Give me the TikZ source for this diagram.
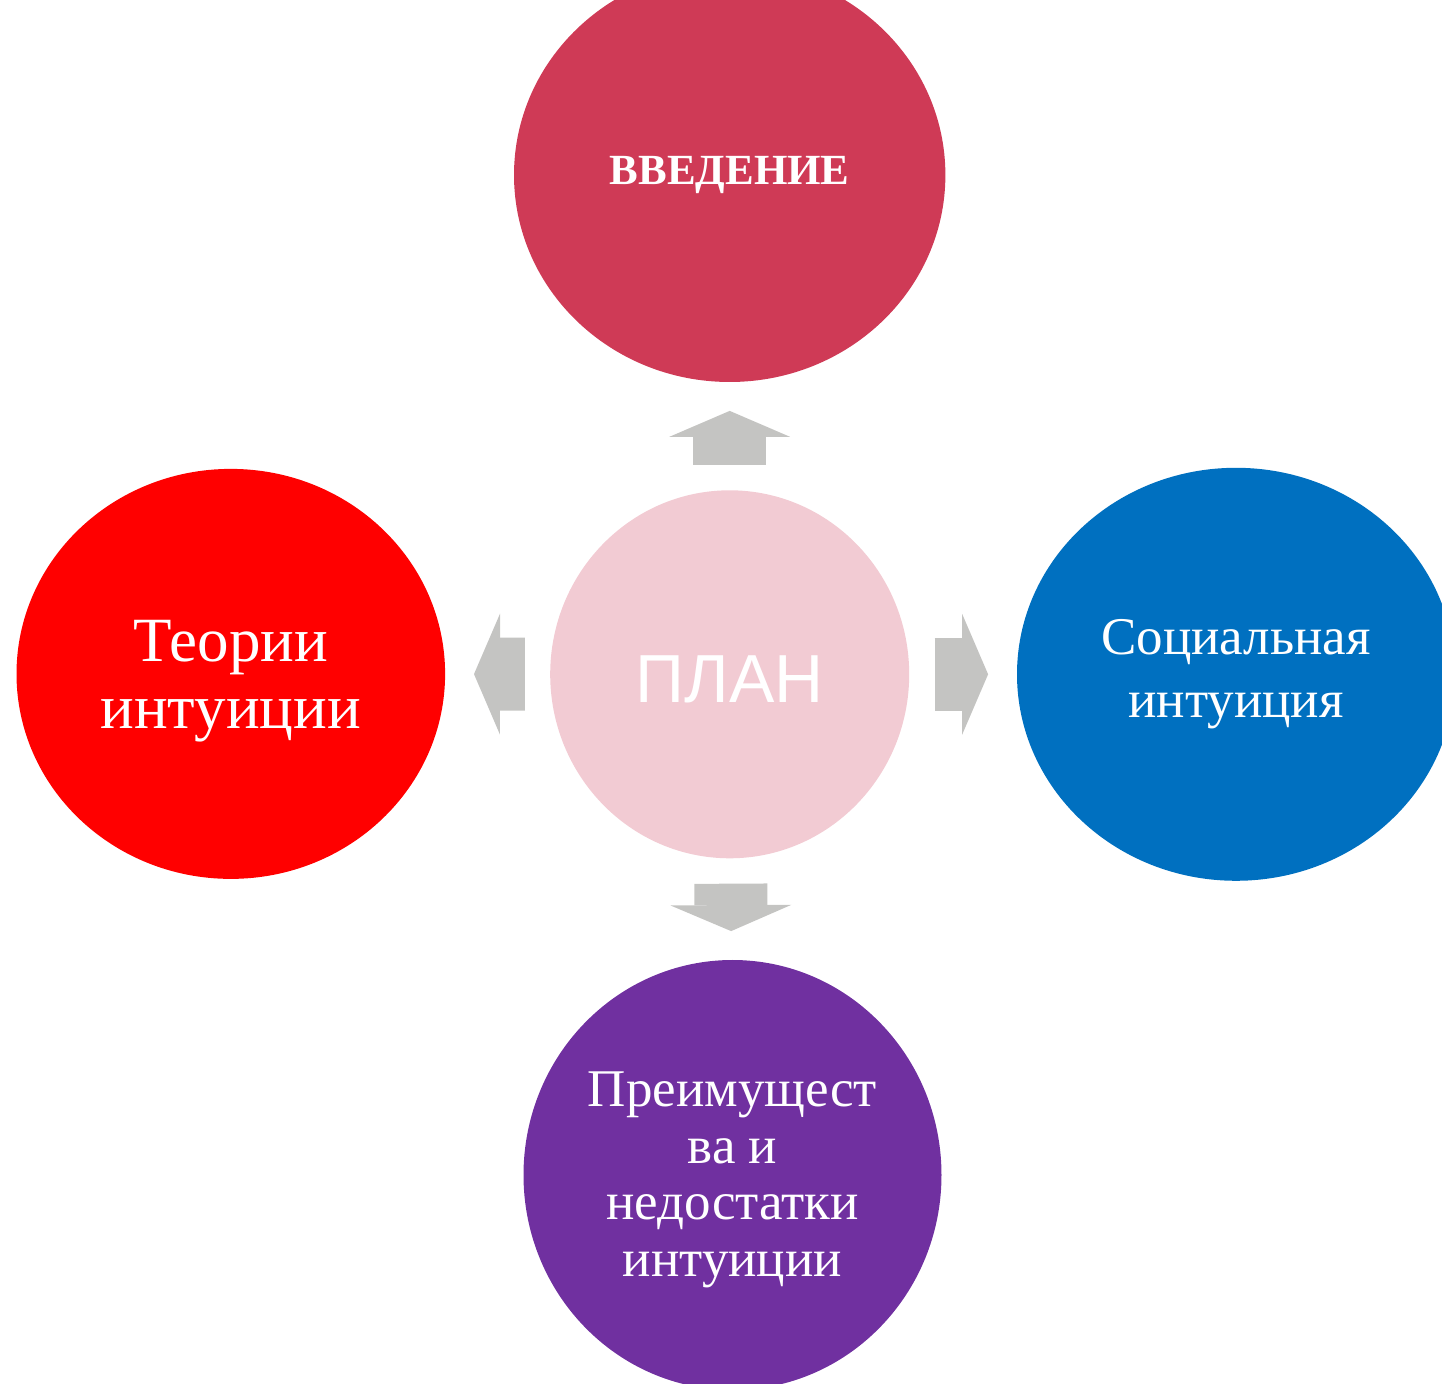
\documentclass[tikz,border=0pt]{standalone}
\usepackage{fontspec}
\setmainfont{Liberation Serif}
\newfontfamily\planfont{Liberation Sans}
\usetikzlibrary{shapes.geometric,arrows.meta}

\definecolor{introred}{RGB}{207,58,86}
\definecolor{planpink}{RGB}{242,203,211}
\definecolor{theoryred}{RGB}{255,0,0}
\definecolor{socialblue}{RGB}{0,112,192}
\definecolor{prospurple}{RGB}{112,48,160}
\definecolor{arrowgray}{RGB}{196,196,194}

\tikzset{
  bubble/.style={ellipse, inner sep=0pt},
  bubbletext/.style={inner sep=0pt, text=white, align=center},
  blockarrow/.style={draw=arrowgray, line width=36.5pt,
    -{Triangle[length=13pt,width=60.5pt,line width=0pt]},
    shorten <=12.5pt, shorten >=14.25pt}
}

\begin{document}
\begin{tikzpicture}[x=0.5pt,y=-0.5pt]
  \useasboundingbox (0,0) rectangle (1442,1384);
  \clip (0,0) rectangle (1442,1384);

  % circles
  \node[bubble, fill=planpink, minimum width=179.5pt, minimum height=184pt] (plan) at (729.7,674.3) {};
  \node[bubble, fill=introred, minimum width=215.7pt, minimum height=207pt] (intro) at (729.7,175) {};
  \node[bubble, fill=theoryred, minimum width=214.3pt, minimum height=205pt] (theory) at (230.8,673.9) {};
  \node[bubble, fill=socialblue, minimum width=219pt, minimum height=206.5pt] (social) at (1236,674.3) {};
  \node[bubble, fill=prospurple, minimum width=209pt, minimum height=215pt] (pros) at (732.5,1175) {};

  % texts
  \node[bubbletext, font=\planfont\fontsize{34}{40}\selectfont] (plantext)
    at ([yshift=-2.5pt]plan.center) {ПЛАН};
  \node[bubbletext, font=\bfseries\fontsize{21.5}{25}\selectfont] (introtext)
    at (intro.center) {ВВЕДЕНИЕ};
  \node[bubbletext, font=\fontsize{31.5}{33.3}\selectfont] (theorytext)
    at ([yshift=-3.5pt]theory.center) {Теории\\интуиции};
  \node[bubbletext, font=\fontsize{26.5}{31.7}\selectfont] (socialtext)
    at (social.center) {Социальная\\интуиция};
  \node[bubbletext, font=\fontsize{26.5}{28.3}\selectfont] (prostext)
    at ([yshift=-2.5pt]pros.center) {Преимущест\\ва и\\недостатки\\интуиции};

  % arrows
  \draw[blockarrow] (plan) -- (intro);
  \draw[blockarrow] (plan) -- (theory);
  \draw[blockarrow] (plan) -- (social);
  \draw[blockarrow] (plan) -- (pros);
\end{tikzpicture}
\end{document}
